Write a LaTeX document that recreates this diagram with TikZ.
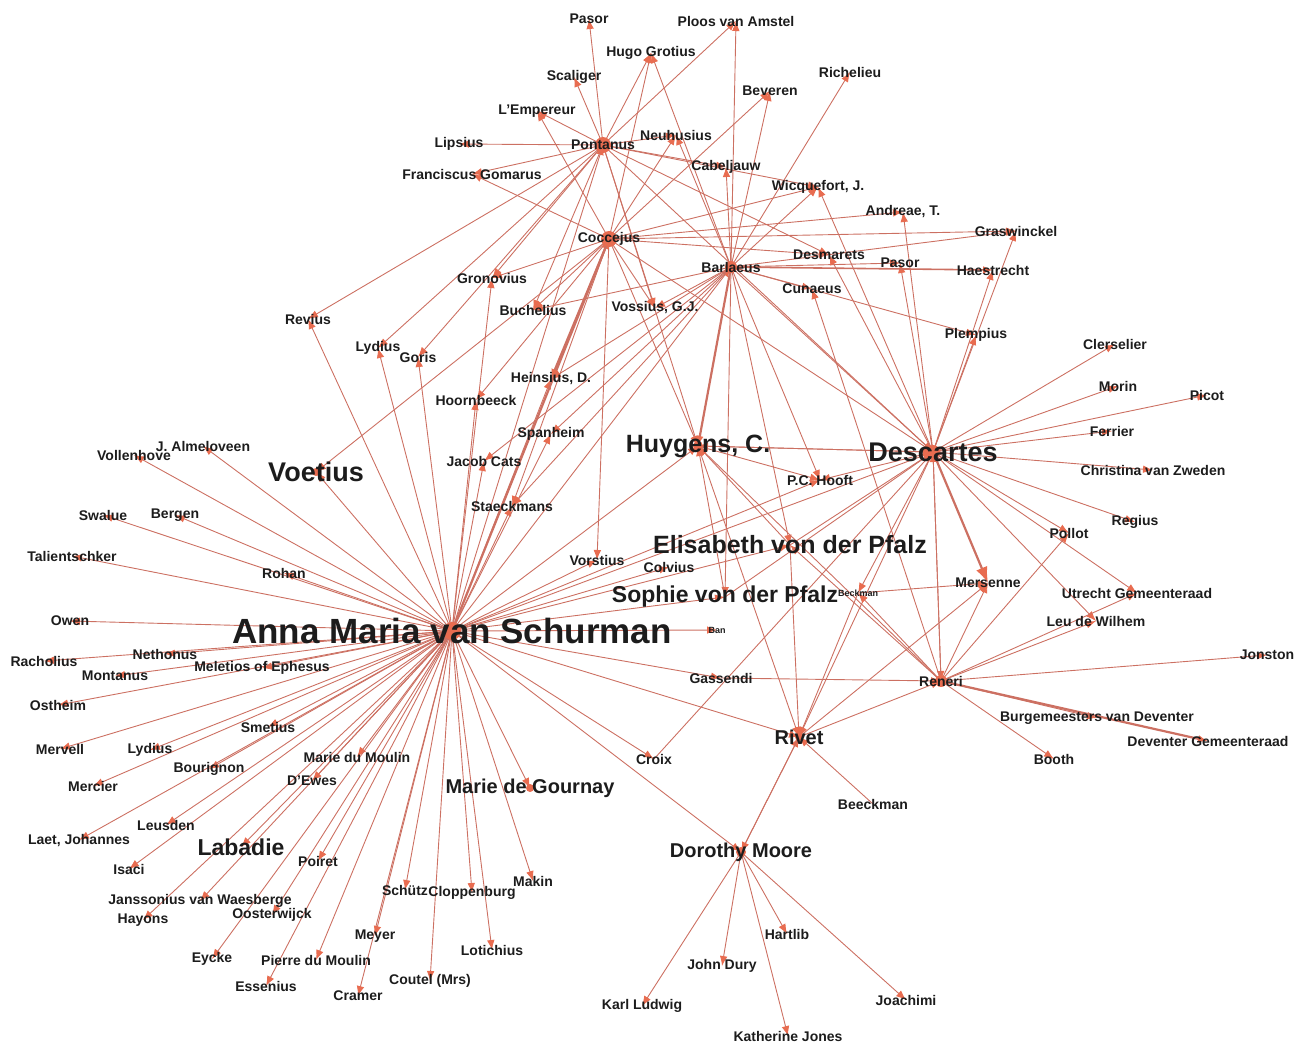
\documentclass[tikz,border=0pt]{standalone}
\usepackage{fontspec}
\setmainfont{Liberation Sans}
\usetikzlibrary{arrows.meta,backgrounds}

\definecolor{linkcol}{RGB}{204,112,98}
\definecolor{tipcol}{RGB}{232,108,80}
\definecolor{namecol}{RGB}{28,28,28}

\begin{document}
\begin{tikzpicture}[x=0.5pt, y=-0.5pt]
        % Define styles for the names and the links
        \tikzstyle{person} = [font=\bfseries\fontsize{7}{8}\selectfont, text=namecol, inner sep=0pt]
        \tikzstyle{tinyname} = [person, font=\bfseries\fontsize{4.5}{5}\selectfont]
        \tikzstyle{keyname} = [person, font=\bfseries\fontsize{10}{11}\selectfont]
        \tikzstyle{subname} = [person, font=\bfseries\fontsize{11.5}{12}\selectfont]
        \tikzstyle{leadname} = [person, font=\bfseries\fontsize{12.5}{13}\selectfont]
        \tikzstyle{topname} = [person, font=\bfseries\fontsize{13.5}{14}\selectfont]
        \tikzstyle{hubname} = [person, font=\bfseries\fontsize{17.5}{18}\selectfont]
        \tikzstyle{link} = [draw=linkcol, line width=0.45pt, -{Latex[length=5pt,width=3.8pt,color=tipcol]}]
        \tikzstyle{heavylink} = [link, line width=1.1pt]

        \useasboundingbox (0,0) rectangle (1309,1044);

        % Nodes: the correspondents around Pontanus, Coccejus and Barlaeus
        \node (pasorA) [person] at (589,19) {Pasor};
        \node (ploos) [person] at (736,21) {Ploos van Amstel};
        \node (grotius) [person] at (651,53) {Hugo Grotius};
        \node (scaliger) [person] at (574,77) {Scaliger};
        \node (richelieu) [person] at (850,72) {Richelieu};
        \node (beveren) [person] at (770,91) {Beveren};
        \node (lempereur) [person] at (537,111) {L'Empereur};
        \node (neuhusius) [person] at (676,135) {Neuhusius};
        \node (lipsius) [person] at (459,144) {Lipsius};
        \node (pontanus) [person] at (603,145) {Pontanus};
        \node (gomarus) [person] at (472,174) {Franciscus Gomarus};
        \node (cabeljauw) [person] at (726,167) {Cabeljauw};
        \node (wicquefort) [person] at (818,187) {Wicquefort, J.};
        \node (andreae) [person] at (903,212) {Andreae, T.};
        \node (graswinckel) [person] at (1016,231) {Graswinckel};
        \node (coccejus) [person] at (609,239) {Coccejus};
        \node (desmarets) [person] at (829,255) {Desmarets};
        \node (barlaeus) [person] at (731,267) {Barlaeus};
        \node (pasorB) [person] at (900,263) {Pasor};
        \node (haestrecht) [person] at (993,270) {Haestrecht};
        \node (gronovius) [person] at (492,278) {Gronovius};
        \node (cunaeus) [person] at (812,289) {Cunaeus};
        \node (buchelius) [person] at (533,310) {Buchelius};
        \node (vossius) [person] at (655,308) {Vossius, G.J.};
        \node (revius) [person] at (308,319) {Revius};
        \node (lydiusA) [person] at (378,348) {Lydius};
        \node (goris) [person] at (418,357) {Goris};
        \node (plempius) [person] at (976,335) {Plempius};
        \node (heinsius) [person] at (551,379) {Heinsius, D.};
        \node (hoornbeeck) [person] at (476,400) {Hoornbeeck};
        \node (spanheim) [person] at (551,434) {Spanheim};
        \node (cats) [person] at (484,461) {Jacob Cats};
        \node (staeckmans) [person] at (512,506) {Staeckmans};

        % Nodes: around Descartes, Huygens and Reneri
        \node (clerselier) [person] at (1115,344) {Clerselier};
        \node (morin) [person] at (1118,386) {Morin};
        \node (picot) [person] at (1207,395) {Picot};
        \node (ferrier) [person] at (1112,431) {Ferrier};
        \node (huygens) [leadname] at (698,446) {Huygens, C.};
        \node (descartes) [topname] at (933,452) {Descartes};
        \node (christina) [person] at (1153,470) {Christina van Zweden};
        \node (hooft) [person] at (820,480) {P.C. Hooft};
        \node (regius) [person] at (1135,522) {Regius};
        \node (pollot) [person] at (1069,533) {Pollot};
        \node (elisabeth) [leadname] at (790,545) {Elisabeth von der Pfalz};
        \node (vorstius) [person] at (597,560) {Vorstius};
        \node (colvius) [person] at (669,567) {Colvius};
        \node (sophie) [subname] at (725,597) {Sophie von der Pfalz};
        \node (beckman) [tinyname] at (858,593) {Beckman};
        \node (mersenne) [person] at (988,583) {Mersenne};
        \node (utrecht) [person] at (1137,593) {Utrecht Gemeenteraad};
        \node (leu) [person] at (1096,621) {Leu de Wilhem};
        \node (ban) [tinyname] at (717,630) {Ban};
        \node (jonston) [person] at (1267,655) {Jonston};
        \node (gassendi) [person] at (721,678) {Gassendi};
        \node (reneri) [person] at (941,681) {Reneri};
        \node (burgemeesters) [person] at (1097,718) {Burgemeesters van Deventer};
        \node (rivet) [keyname] at (799,737) {Rivet};
        \node (deventer) [person] at (1208,741) {Deventer Gemeenteraad};
        \node (croix) [person] at (654,759) {Croix};
        \node (booth) [person] at (1054,759) {Booth};
        \node (beeckman) [person] at (873,804) {Beeckman};

        % Nodes: around Anna Maria van Schurman and Dorothy Moore
        \node (ams) [hubname] at (452,631) {Anna Maria van Schurman};
        \node (voetius) [topname] at (316,472) {Voetius};
        \node (almeloveen) [person] at (203,446) {J. Almeloveen};
        \node (vollenhove) [person] at (134,455) {Vollenhove};
        \node (swalue) [person] at (103,515) {Swalue};
        \node (bergen) [person] at (175,515) {Bergen};
        \node (talientschker) [person] at (72,556) {Talientschker};
        \node (rohan) [person] at (284,573) {Rohan};
        \node (owen) [person] at (70,621) {Owen};
        \node (nethonus) [person] at (165,654) {Nethonus};
        \node (racholius) [person] at (44,661) {Racholius};
        \node (montanus) [person] at (115,676) {Montanus};
        \node (meletios) [person] at (262,668) {Meletios of Ephesus};
        \node (ostheim) [person] at (58,705) {Ostheim};
        \node (smetius) [person] at (268,727) {Smetius};
        \node (mervell) [person] at (60,749) {Mervell};
        \node (lydiusB) [person] at (150,750) {Lydius};
        \node (mariedm) [person] at (357,757) {Marie du Moulin};
        \node (bourignon) [person] at (209,769) {Bourignon};
        \node (mercier) [person] at (93,786) {Mercier};
        \node (dewes) [person] at (312,781) {D'Ewes};
        \node (gournay) [keyname] at (530,788) {Marie de Gournay};
        \node (leusden) [person] at (166,825) {Leusden};
        \node (laet) [person] at (79,840) {Laet, Johannes};
        \node (labadie) [subname] at (241,847) {Labadie};
        \node (moore) [keyname] at (741,852) {Dorothy Moore};
        \node (isaci) [person] at (129,869) {Isaci};
        \node (poiret) [person] at (318,861) {Poiret};
        \node (schutz) [person] at (405,890) {Schütz};
        \node (cloppenburg) [person] at (472,893) {Cloppenburg};
        \node (makin) [person] at (533,881) {Makin};
        \node (janssonius) [person] at (200,901) {Janssonius van Waesberge};
        \node (hayons) [person] at (143,920) {Hayons};
        \node (oosterwijck) [person] at (272,915) {Oosterwijck};
        \node (hartlib) [person] at (787,934) {Hartlib};
        \node (meyer) [person] at (375,936) {Meyer};
        \node (lotichius) [person] at (492,950) {Lotichius};
        \node (eycke) [person] at (212,959) {Eycke};
        \node (pierredm) [person] at (316,960) {Pierre du Moulin};
        \node (dury) [person] at (722,966) {John Dury};
        \node (essenius) [person] at (266,986) {Essenius};
        \node (coutel) [person] at (430,981) {Coutel (Mrs)};
        \node (cramer) [person] at (358,996) {Cramer};
        \node (joachimi) [person] at (906,1000) {Joachimi};
        \node (ludwig) [person] at (642,1006) {Karl Ludwig};
        \node (jones) [person] at (788,1036) {Katherine Jones};

        % Edges
        \begin{pgfonlayer}{background}
        \foreach \t in {vollenhove, almeloveen, swalue, bergen, talientschker, rohan, owen, racholius,
                nethonus, montanus, meletios, ostheim, mervell, lydiusB, smetius, mercier, bourignon,
                laet, leusden, isaci, labadie, janssonius, hayons, poiret, dewes, mariedm, oosterwijck,
                eycke, essenius, pierredm, cramer, meyer, schutz, coutel, cloppenburg, lotichius, makin,
                gournay, croix, moore, rivet, gassendi, ban, colvius, sophie, elisabeth, vorstius,
                huygens, descartes, voetius, revius, lydiusA, goris, gronovius, hoornbeeck, cats,
                staeckmans, spanheim, heinsius, barlaeus, pontanus, hooft}
            \draw [link] (ams.center) -- (\t.center);
        \foreach \t in {pasorA, scaliger, grotius, ploos, lempereur, lipsius, gomarus, cabeljauw,
                wicquefort, desmarets, revius, lydiusA, goris, gronovius, buchelius, huygens, vossius,
                descartes, neuhusius}
            \draw [link] (pontanus.center) -- (\t.center);
        \foreach \t in {grotius, beveren, neuhusius, lempereur, gomarus, andreae, desmarets, graswinckel,
                gronovius, buchelius, hoornbeeck, voetius, vossius, huygens, vorstius, descartes,
                staeckmans, wicquefort}
            \draw [link] (coccejus.center) -- (\t.center);
        \foreach \t in {ploos, grotius, beveren, richelieu, neuhusius, cabeljauw, wicquefort, graswinckel,
                pasorB, cunaeus, plempius, buchelius, cats, spanheim, staeckmans, heinsius, vossius,
                hooft, descartes, elisabeth, sophie}
            \draw [link] (barlaeus.center) -- (\t.center);
        \foreach \t in {clerselier, morin, picot, ferrier, christina, regius, pollot, utrecht, leu, reneri,
                andreae, pasorB, graswinckel, haestrecht, plempius, wicquefort, desmarets, huygens,
                hooft, beckman, rivet}
            \draw [link] (descartes.center) -- (\t.center);
        \foreach \t in {jonston, burgemeesters, booth, utrecht, leu, mersenne, pollot, huygens, elisabeth,
                beckman, cunaeus, descartes}
            \draw [link] (reneri.center) -- (\t.center);
        \foreach \t in {ludwig, dury, hartlib, jones, joachimi, rivet}
            \draw [link] (moore.center) -- (\t.center);
        \draw [link] (huygens.center) -- (descartes.center);
        \draw [link] (huygens.center) -- (hooft.center);
        \draw [link] (huygens.center) -- (rivet.center);
        \draw [link] (elisabeth.center) -- (descartes.center);
        \draw [link] (elisabeth.center) -- (huygens.center);
        \draw [link] (elisabeth.center) -- (rivet.center);
        \draw [link] (sophie.center) -- (descartes.center);
        \draw [link] (sophie.center) -- (huygens.center);
        \draw [link] (croix.center) -- (descartes.center);
        \draw [link] (gassendi.center) -- (reneri.center);
        \draw [link] (beckman.center) -- (mersenne.center);
        \draw [link] (beckman.center) -- (rivet.center);
        \draw [link] (beeckman.center) -- (rivet.center);
        \draw [link] (rivet.center) -- (reneri.center);
        \draw [link] (rivet.center) -- (mersenne.center);
        \draw [link] (rivet.center) -- (moore.center);
        \draw [link, line width=0.8pt] (barlaeus.center) -- (haestrecht.center);
        \draw [heavylink] (ams.center) -- (coccejus.center);
        \draw [heavylink] (coccejus.center) -- (heinsius.center);
        \draw [heavylink] (barlaeus.center) -- (huygens.center);
        \draw [heavylink] (reneri.center) -- (deventer.center);
        \draw [heavylink, -{Latex[length=8pt,width=6pt,color=tipcol]}] (descartes.center) -- (mersenne.center);

        % hub blobs
        \fill [tipcol] (ams.center) circle (9);
        \fill [tipcol] (pontanus.center) circle (8);
        \fill [tipcol] (coccejus.center) circle (8);
        \fill [tipcol] (barlaeus.center) circle (6);
        \fill [tipcol] (descartes.center) circle (7);
        \fill [tipcol] (reneri.center) circle (6);
        \fill [tipcol] (huygens.center) circle (5);
        \fill [tipcol] (moore.center) circle (5);
        \fill [tipcol] (rivet.center) circle (4);
        \fill [tipcol] (voetius.center) circle (4);
        \fill [tipcol] (gournay.center) circle (4);
        \end{pgfonlayer}
    \end{tikzpicture}
\end{document}
